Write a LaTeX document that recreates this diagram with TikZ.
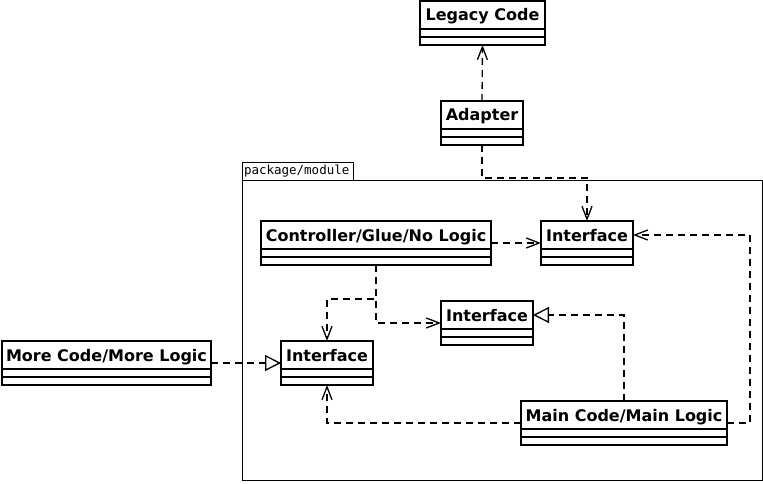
\documentclass[tikz,border=0pt]{standalone}
\usepackage{fontspec}
\setmainfont{DejaVu Sans}
\newfontfamily\pkgfont{DejaVu Sans Mono}
\usetikzlibrary{arrows.meta,calc}
\tikzset{
  cls/.style={draw, line width=1.6pt, fill=white, anchor=north west, minimum height=44pt, inner sep=0pt, outer sep=0pt},
  cname/.style={font=\bfseries\fontsize{16}{18}\selectfont, inner sep=0pt, anchor=base},
  sep/.style={line width=1.6pt},
  dep/.style={line width=1.3pt, dash pattern=on 7pt off 5pt, -{Straight Barb[length=13pt,width=10pt,line width=1.3pt]}},
  real/.style={line width=1.3pt, dash pattern=on 7pt off 5pt, -{Triangle[length=16pt,width=16pt,fill=white,line width=1.3pt]}},
}
\newcommand\umlclass[5]{% id, x, y, width, text
  \node[cls, minimum width=#4pt] (#1) at (#2,#3) {};
  \node[cname] (#1t) at ($(#1.north)+(0,20)$) {#5};
  \draw[sep] ([yshift=-28pt]#1.north west) -- ([yshift=-28pt]#1.north east);
  \draw[sep] ([yshift=-36pt]#1.north west) -- ([yshift=-36pt]#1.north east);
}
\begin{document}
\begin{tikzpicture}[x=1pt,y=-1pt]
\path[use as bounding box, fill=white] (0,0) rectangle (763,484);
% package
\node[draw, line width=0.8pt, anchor=north west, minimum width=520pt, minimum height=300pt, inner sep=0pt, outer sep=0pt] (pkg) at (242,180) {};
\node[draw, line width=0.8pt, anchor=south west, minimum height=18pt, inner xsep=2pt, inner ysep=0pt, outer sep=0pt, text width=107pt, align=left, font=\pkgfont\fontsize{12.5}{14}\selectfont] (tab) at (pkg.north west) {package/module};
% classes
\umlclass{lc}{420}{1}{125}{Legacy Code}
\umlclass{ad}{441}{101}{82}{Adapter}
\umlclass{ctl}{261}{221}{230}{Controller/Glue/No Logic}
\umlclass{ia}{541}{221}{92}{Interface}
\umlclass{im}{441}{301}{92}{Interface}
\umlclass{il}{281}{341}{92}{Interface}
\umlclass{mc}{2}{341}{209}{More Code/More Logic}
\umlclass{mn}{521}{401}{206}{Main Code/Main Logic}
% connectors
\draw[dep] (ad.north) -- (lc.south);
\draw[dep] (ad.south) -- ++(0,33) -| (ia.north);
\draw[dep] (ctl.east) -- (ia.west);
\draw[dep] (ctl.south) -- ++(0,34) -| (il.north);
\draw[dep] (ctl.south) |- (im.west);
\draw[real] (mc.east) -- (il.west);
\draw[real] (mn.north) |- ($(im.east |- imt.base)+(0,-6)$);
\draw[dep] (mn.east) -- ++(23,0) |- ($(ia.east |- iat.base)+(0,-6)$);
\draw[dep] (mn.west) -| (il.south);
\end{tikzpicture}
\end{document}
